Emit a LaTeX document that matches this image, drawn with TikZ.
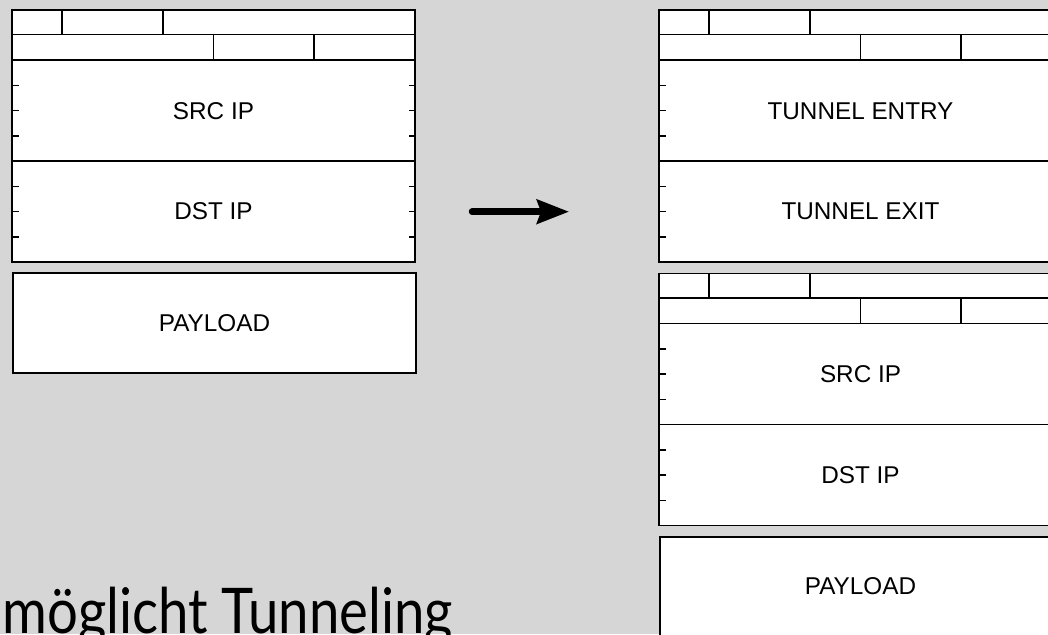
\documentclass[tikz,border=0pt]{standalone}
\usepackage{fontspec}
\setmainfont{Liberation Sans}
\newfontfamily\titlefont{Lato}
\usetikzlibrary{arrows.meta}
\definecolor{bg}{RGB}{214,214,214}
\begin{document}
\begin{tikzpicture}[x=1pt,y=-1pt,
  frame/.style={draw=black,line width=1.9pt,fill=white},
  rule/.style={draw=black,line width=1.9pt},
  tickmark/.style={draw=black,line width=1.5pt},
  lbl/.style={font=\fontsize{24.3}{28}\selectfont,inner sep=0pt},
  paybox/.style={frame,minimum width=403pt,minimum height=100pt,anchor=north west,inner sep=0pt},
  iphdr/.pic={
    \path[frame] (0,0) rectangle (403,252);
    \path[rule] (0,24.5)--(403,24.5) (0,50)--(403,50) (0,151)--(403,151)
      (50.4,0)--(50.4,24.5) (151.1,0)--(151.1,24.5)
      (201.5,24.5)--(201.5,50) (302.2,24.5)--(302.2,50);
    \foreach \t in {75.25,100.5,125.75,176.25,201.5,226.75}{
      \path[tickmark] (0,\t)--(6.5,\t) (403,\t)--(396.5,\t);}
  }]
\useasboundingbox (0,0) rectangle (1048,634);
\fill[bg] (0,0) rectangle (1048,634);
\begin{scope}
\clip (0,0) rectangle (1048,634);
% left packet
\pic (lh) at (12,10) {iphdr};
\node[paybox] (lpay) at (12,272) {};
\node[lbl] (lsrc) at (213.5,110.8) {SRC IP};
\node[lbl] (ldst) at (213.5,211.5) {DST IP};
\node[lbl] (lpayt) at (lpay.center) {PAYLOAD};
% right packet
\pic (rh1) at (659,10) {iphdr};
\pic (rh2) at (659,273.5) {iphdr};
\node[paybox] (rpay) at (659,536) {};
\node[lbl] (rent) at (860.5,110.8) {TUNNEL ENTRY};
\node[lbl] (rexit) at (860.5,211.5) {TUNNEL EXIT};
\node[lbl] (rsrc) at (860.5,374.5) {SRC IP};
\node[lbl] (rdst) at (860.5,475.5) {DST IP};
\node[lbl] (rpayt) at (860.5,586) {PAYLOAD};
% arrow
\coordinate (astart) at (472,211.7);
\coordinate (aend) at (569,211.7);
\draw[line width=6.5pt,line cap=round,-{Stealth[length=32pt,width=24pt,inset=4pt]}] (astart) -- (aend);
% title
\node[anchor=base west,inner sep=0pt,xscale=0.865,transform shape,font=\titlefont\fontsize{63}{70}\selectfont] (title) at (2.3,633) {möglicht Tunneling};
\end{scope}
\end{tikzpicture}
\end{document}
